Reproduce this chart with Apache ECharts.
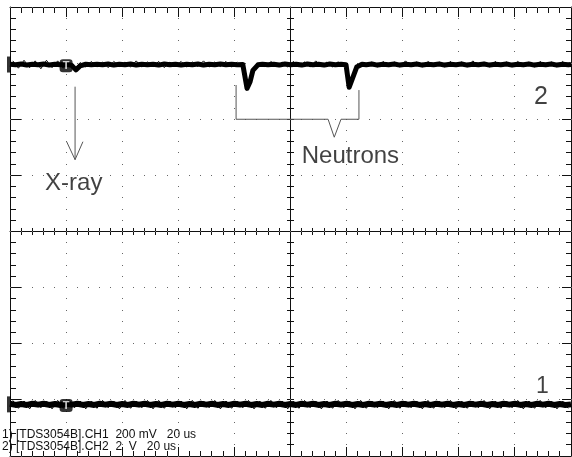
<!DOCTYPE html>
<html><head><meta charset="utf-8">
<script src="https://cdn.jsdelivr.net/npm/echarts@6/dist/echarts.min.js"></script>
<style>html,body{margin:0;padding:0;background:#fff}#c{width:572px;height:457px}</style>
</head><body><div id="c"></div>
<script>
// time in microseconds (20 us/div), amplitude in screen divisions
const trace2 = [[0,2.98],[2,2.97],[4,2.985],[6,2.965],[8,2.98],[10,2.97],[12,2.985],[14,2.965],[16,2.98],[18,2.97],
 [20,2.98],[22,2.96],[23.5,2.88],[25,2.95],[27,2.98],[29,2.97],[31,2.98],[33,2.97],[35,2.985],[37,2.965],
 [39,2.98],[41,2.97],[43,2.985],[45,2.965],[47,2.98],[49,2.97],[51,2.98],[53,2.965],[55,2.985],[57,2.97],
 [59,2.98],[61,2.965],[63,2.98],[65,2.97],[67,2.985],[69,2.965],[71,2.98],[73,2.97],[75,2.985],[77,2.97],
 [79,2.98],[81,2.97],[83,2.975],[84.5,2.55],[85.6,2.67],[86.6,2.87],[88.4,2.97],[90,2.98],[92,2.97],[94,2.98],
 [96,2.965],[98,2.985],[100,2.97],[102,2.98],[104,2.965],[106,2.985],[108,2.97],[110,2.98],[112,2.965],[114,2.985],
 [116,2.97],[118,2.98],[119.8,2.97],[120.9,2.57],[121.8,2.69],[123.6,2.93],[125.5,2.98],[127,2.97],[129,2.985],[131,2.965],
 [133,2.98],[135,2.97],[137,2.985],[139,2.965],[141,2.98],[143,2.97],[145,2.985],[147,2.965],[149,2.98],[151,2.97],
 [153,2.985],[155,2.965],[157,2.98],[159,2.97],[161,2.985],[163,2.965],[165,2.98],[167,2.97],[169,2.985],[171,2.965],
 [173,2.98],[175,2.97],[177,2.985],[179,2.965],[181,2.98],[183,2.97],[185,2.985],[187,2.965],[189,2.98],[191,2.97],
 [193,2.985],[195,2.965],[197,2.98],[199,2.97],[200,2.975]];
const noise2 = [[1,3.04],[3,2.91],[5,3.05],[7,2.92],[9,3.04],[11,2.90],[13,3.05],[15,2.92],[17,3.04],[19,2.91],
 [21,3.02],[23,2.89],[25,3.01],[27,2.93],[29,3.03],[31,2.93],[33,3.02],[35,2.92],[37,3.03],[39,2.94],
 [41,3.02],[43,2.93],[45,3.04],[47,2.93],[49,3.02],[51,2.94],[53,3.03],[55,2.92],[57,3.02],[59,2.94],
 [61,3.03],[63,2.93],[65,3.02],[67,2.94],[69,3.04],[71,2.93],[73,3.02],[75,2.94],[77,3.03],[79,2.93],
 [81,3.02],[83,'-'],[91,2.93],[93,3.03],[95,2.94],[97,3.02],[99,2.93],[101,3.03],[103,2.94],[105,3.02],
 [107,2.93],[109,3.04],[111,2.94],[113,3.02],[115,2.93],[117,3.03],[119,'-'],[127,2.94],[129,3.02],[131,2.93],
 [133,3.03],[135,2.94],[137,3.02],[139,2.93],[141,3.04],[143,2.94],[145,3.02],[147,2.93],[149,3.03],[151,2.94],
 [153,3.02],[155,2.93],[157,3.03],[159,2.94],[161,3.02],[163,2.93],[165,3.04],[167,2.94],[169,3.02],[171,2.93],
 [173,3.03],[175,2.94],[177,3.02],[179,2.93],[181,3.03],[183,2.94],[185,3.02],[187,2.93],[189,3.03],[191,2.94],
 [193,3.02],[195,2.93],[197,3.03],[199,2.94]];
const trace1 = [[0,-3.07],[2,-3.09],[4,-3.075],[6,-3.09],[8,-3.07],[10,-3.085],[12,-3.07],[14,-3.09],[16,-3.075],[18,-3.09],
 [20,-3.07],[22,-3.085],[24,-3.07],[26,-3.09],[28,-3.075],[30,-3.09],[32,-3.07],[34,-3.085],[36,-3.07],[38,-3.09],
 [40,-3.075],[42,-3.09],[44,-3.07],[46,-3.085],[48,-3.07],[50,-3.09],[52,-3.075],[54,-3.09],[56,-3.07],[58,-3.085],
 [60,-3.07],[62,-3.09],[64,-3.075],[66,-3.09],[68,-3.07],[70,-3.085],[72,-3.07],[74,-3.09],[76,-3.075],[78,-3.09],
 [80,-3.07],[82,-3.085],[84,-3.07],[86,-3.09],[88,-3.075],[90,-3.09],[92,-3.07],[94,-3.085],[96,-3.07],[98,-3.09],
 [100,-3.075],[102,-3.09],[104,-3.07],[106,-3.085],[108,-3.07],[110,-3.09],[112,-3.075],[114,-3.09],[116,-3.07],[118,-3.085],
 [120,-3.07],[122,-3.09],[124,-3.075],[126,-3.09],[128,-3.07],[130,-3.085],[132,-3.07],[134,-3.09],[136,-3.075],[138,-3.09],
 [140,-3.07],[142,-3.085],[144,-3.07],[146,-3.09],[148,-3.075],[150,-3.09],[152,-3.07],[154,-3.085],[156,-3.07],[158,-3.09],
 [160,-3.075],[162,-3.09],[164,-3.07],[166,-3.085],[168,-3.07],[170,-3.09],[172,-3.075],[174,-3.09],[176,-3.07],[178,-3.085],
 [180,-3.07],[182,-3.09],[184,-3.075],[186,-3.09],[188,-3.07],[190,-3.085],[192,-3.07],[194,-3.09],[196,-3.075],[198,-3.09],
 [200,-3.08]];
const noise1 = [[1,-3.01],[3,-3.15],[5,-3.02],[7,-3.16],[9,-3.01],[11,-3.14],[13,-3.02],[15,-3.16],[17,-3.01],[19,-3.15],
 [21,-3.01],[23,-3.14],[25,-3.02],[27,-3.16],[29,-3.02],[31,-3.15],[33,-3.01],[35,-3.14],[37,-3.02],[39,-3.16],
 [41,-3.01],[43,-3.15],[45,-3.02],[47,-3.14],[49,-3.01],[51,-3.16],[53,-3.01],[55,-3.15],[57,-3.02],[59,-3.14],
 [61,-3.02],[63,-3.16],[65,-3.01],[67,-3.15],[69,-3.02],[71,-3.14],[73,-3.01],[75,-3.16],[77,-3.02],[79,-3.15],
 [81,-3.02],[83,-3.14],[85,-3.01],[87,-3.16],[89,-3.02],[91,-3.15],[93,-3.01],[95,-3.14],[97,-3.02],[99,-3.16],
 [101,-3.02],[103,-3.15],[105,-3.01],[107,-3.14],[109,-3.02],[111,-3.16],[113,-3.02],[115,-3.15],[117,-3.01],[119,-3.14],
 [121,-3.02],[123,-3.16],[125,-3.01],[127,-3.15],[129,-3.02],[131,-3.14],[133,-3.02],[135,-3.16],[137,-3.01],[139,-3.15],
 [141,-3.02],[143,-3.14],[145,-3.02],[147,-3.16],[149,-3.01],[151,-3.15],[153,-3.02],[155,-3.14],[157,-3.01],[159,-3.16],
 [161,-3.02],[163,-3.15],[165,-3.02],[167,-3.14],[169,-3.01],[171,-3.16],[173,-3.02],[175,-3.15],[177,-3.02],[179,-3.14],
 [181,-3.01],[183,-3.16],[185,-3.02],[187,-3.15],[189,-3.01],[191,-3.14],[193,-3.02],[195,-3.16],[197,-3.02],[199,-3.15]];
const triggerTime = 20;
const groundLevels = [2.975, -3.08];
const bracketT = [80.6, 80.6, 113.4, 115.6, 118.0, 124.4, 124.4];
const bracketV = [2.61, 2.00, 2.00, 1.68, 2.00, 2.00, 2.52];
const arrowShaftT = [23.2, 23.2];
const arrowShaftV = [2.58, 1.28];
const arrowHeadT = [20.2, 23.2, 26.0];
const arrowHeadV = [1.60, 1.28, 1.60];
const labelTexts = ['X-ray', 'Neutrons', '2', '1'];
const labelT = [12.5, 104.0, 189.3, 189.8];
const labelV = [0.85, 1.33, 2.40, -2.77];
const statusLines = ['1) [TDS3054B].CH1  200 mV   20 us', '2) [TDS3054B].CH2  2  V   20 us'];
// graticule: 10 x 8 divisions, 5 minor ticks per division
const xMin = 0, xMax = 200, xDiv = 20;
const yMin = -4, yMax = 4, yDiv = 1;
const minorPerDiv = 5;

const ink = '#111';
const dotColor = '#666';
const labelSizes = [24, 24, 25, 23];
const labelAlign = ['left', 'left', 'center', 'center'];
const L = 10, T = 7, W = 561, H = 449;

function zip(a, b) { return a.map((x, i) => [x, b[i]]); }
const xTickVals = [], yTickVals = [];
for (let i = 0; i <= (xMax - xMin) / xDiv * minorPerDiv; i++) xTickVals.push(xMin + i * xDiv / minorPerDiv);
for (let i = 0; i <= (yMax - yMin) / yDiv * minorPerDiv; i++) yTickVals.push(yMin + i * yDiv / minorPerDiv);
const tickData = xTickVals.map((v, i) => [v, 0, 0, i % minorPerDiv === 0 ? 1 : 0])
  .concat(yTickVals.map((v, i) => [0, v, 1, i % minorPerDiv === 0 ? 1 : 0]));

function px(c) { return Math.round(c - 0.5); }
function renderTick(params, api) {
  const isY = api.value(2) === 1, major = api.value(3) === 1;
  const tl = api.coord([xMin, yMax]), br = api.coord([xMax, yMin]), mid = api.coord([(xMin + xMax) / 2, (yMin + yMax) / 2]);
  const top = px(tl[1]), bot = px(br[1]), left = px(tl[0]), right = px(br[0]), my = px(mid[1]), mx = px(mid[0]);
  const kids = [];
  const box = (x, y, w, h, c) => kids.push({ type: 'rect', shape: { x: x, y: y, width: w, height: h }, style: { fill: c } });
  if (!isY) {
    const x = px(api.coord([api.value(0), 0])[0]);
    const len = major ? 10 : 6;
    box(x, top, 1, len, ink);
    box(x, bot - len + 1, 1, len, ink);
    box(x, my - 3, 1, 7, ink);
    if (major) yTickVals.forEach(v => box(x, px(api.coord([0, v])[1]), 1, 1, dotColor));
  } else {
    const y = px(api.coord([0, api.value(1)])[1]);
    const lenL = major ? 11 : 6, lenR = major ? 10 : 6;
    box(left, y, lenL, 1, ink);
    box(right - lenR + 1, y, lenR, 1, ink);
    box(mx - 3, y, 7, 1, ink);
    if (major) xTickVals.forEach(v => box(px(api.coord([v, 0])[0]), y, 1, 1, dotColor));
  }
  return { type: 'group', children: kids };
}

const xBase = { type: 'value', min: xMin, max: xMax, interval: xDiv, axisLabel: { show: false }, axisTick: { show: false }, minorTick: { show: false }, splitLine: { show: false } };
const yBase = { type: 'value', min: yMin, max: yMax, interval: yDiv, axisLabel: { show: false }, axisTick: { show: false }, minorTick: { show: false }, splitLine: { show: false } };
const frame = { show: true, onZero: false, lineStyle: { color: ink, width: 1 } };

const chart = echarts.init(document.getElementById('c'));
chart.setOption({
  animation: false,
  grid: { left: L, top: T, width: W, height: H },
  xAxis: [
    Object.assign({ position: 'bottom', axisLine: frame }, xBase),
    Object.assign({ position: 'top', axisLine: frame }, xBase),
    Object.assign({ position: 'bottom', offset: -H / 2, axisLine: frame }, xBase)
  ],
  yAxis: [
    Object.assign({ position: 'left', axisLine: frame }, yBase),
    Object.assign({ position: 'right', axisLine: frame }, yBase),
    Object.assign({ position: 'left', offset: -W / 2, axisLine: frame }, yBase)
  ],
  graphic: [
    { type: 'text', left: 2, top: 429, z: 100, style: { text: statusLines[0], font: '12px Arial, "Liberation Sans"', fill: ink } },
    { type: 'text', left: 2, top: 441, z: 100, style: { text: statusLines[1], font: '12px Arial, "Liberation Sans"', fill: ink } }
  ],
  series: [
    { type: 'custom', data: tickData, renderItem: renderTick, clip: false, silent: true, z: 3,
      encode: { x: 0, y: 1 } },
    { type: 'line', data: noise2, symbol: 'none', lineStyle: { color: '#000', width: 1 }, z: 5 },
    { type: 'line', data: noise1, symbol: 'none', lineStyle: { color: '#000', width: 1 }, z: 5 },
    { type: 'line', data: trace2, symbol: 'none', lineStyle: { color: '#000', width: 5, join: 'round' }, z: 5 },
    { type: 'line', data: trace1, symbol: 'none', lineStyle: { color: '#000', width: 6, join: 'round' }, z: 5 },
    { type: 'line', data: zip(bracketT, bracketV), symbol: 'none', lineStyle: { color: '#555', width: 1 } },
    { type: 'line', data: zip(arrowShaftT, arrowShaftV), symbol: 'none', lineStyle: { color: '#555', width: 1 } },
    { type: 'line', data: zip(arrowHeadT, arrowHeadV), symbol: 'none', lineStyle: { color: '#555', width: 1 } },
    { type: 'scatter', data: groundLevels.map(v => [0, v]), symbol: 'rect', symbolSize: [4, 16], symbolOffset: [-1, 0],
      itemStyle: { color: '#000' }, z: 6, clip: false },
    { type: 'scatter', data: groundLevels.map(v => [triggerTime, v - 0.02]), symbol: 'roundRect', symbolSize: 13,
      itemStyle: { color: '#000' }, z: 7,
      label: { show: true, position: 'inside', formatter: 'T', color: '#fff', fontWeight: 'bold', fontSize: 11, fontFamily: 'Arial' } },
    { type: 'scatter', clip: false, symbolSize: 1, itemStyle: { color: 'rgba(0,0,0,0)' }, z: 8,
      data: labelTexts.map((s, i) => ({
        value: [labelT[i], labelV[i]], name: s,
        label: { show: true, position: 'inside', formatter: s, align: labelAlign[i], verticalAlign: 'middle',
                 fontSize: labelSizes[i], fontFamily: 'Arial, "Liberation Sans"', color: ink }
      })) }
  ]
});
</script></body></html>
